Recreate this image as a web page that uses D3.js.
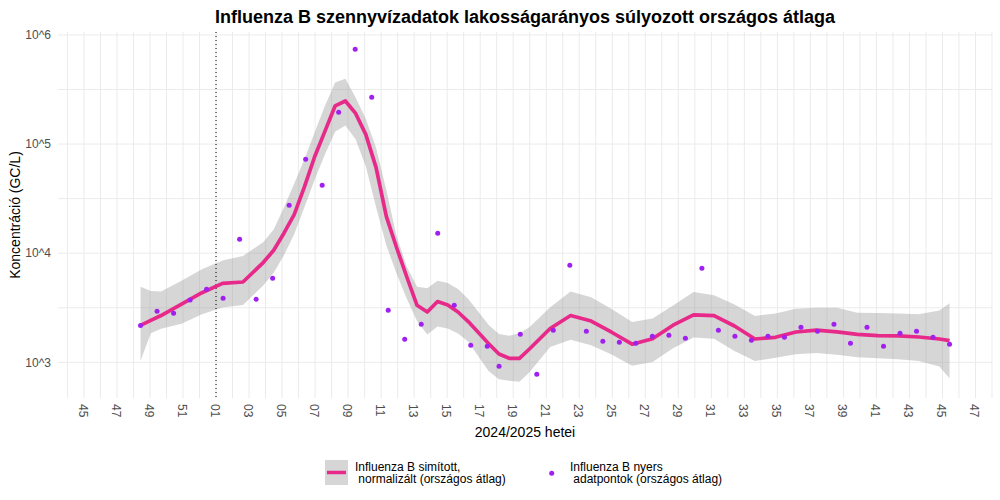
<!DOCTYPE html>
<html><head><meta charset="utf-8">
<script src="https://cdn.jsdelivr.net/npm/d3@7"></script>
<style>body{margin:0;background:#fff} text{font-family:"Liberation Sans",Arial,sans-serif}</style>
</head><body><svg id="c" width="1000" height="500"></svg>
<script>
const chartTitle = "Influenza B szennyvízadatok lakosságarányos súlyozott országos átlaga";
const xTitle = "2024/2025 hetei";
const yTitle = "Koncentráció (GC/L)";

// raw weekly data points (date of sample, GC/L)
const pointDates = ["2024-11-28","2024-12-05","2024-12-12","2024-12-19","2024-12-26","2025-01-02","2025-01-09","2025-01-16","2025-01-23","2025-01-30","2025-02-06","2025-02-13","2025-02-20","2025-02-27","2025-03-06","2025-03-13","2025-03-20","2025-03-27","2025-04-03","2025-04-10","2025-04-17","2025-04-24","2025-04-29","2025-05-08","2025-05-15","2025-05-22","2025-05-29","2025-06-05","2025-06-12","2025-06-19","2025-06-26","2025-07-03","2025-07-10","2025-07-17","2025-07-24","2025-07-31","2025-08-07","2025-08-14","2025-08-21","2025-08-28","2025-09-04","2025-09-11","2025-09-18","2025-09-25","2025-10-02","2025-10-09","2025-10-16","2025-10-23","2025-10-30","2025-11-06"];
const pointValues = [2180,2930,2810,3720,4670,3860,13410,3780,5890,27480,72550,41920,195600,739600,268500,3000,1625,2230,15220,3331,1432,1402,919,1806,776,1965,7745,1924,1558,1525,1494,1731,1768,1660,7270,1965,1731,1591,1731,1695,2094,1924,2230,1494,2094,1402,1844,1924,1695,1462];

// smoothed curve (days after first sample) with confidence band
const smoothStart = "2024-11-28";
const smoothDays = [0,4.34,8.68,17.37,26.05,34.74,43.42,52.1,56.45,60.79,65.13,69.47,73.81,78.15,82.49,86.84,91.18,95.52,99.86,104.2,108.54,112.89,117.23,121.57,125.91,130.25,134.59,138.94,147.62,151.96,156.3,160.65,164.99,173.67,182.35,191.04,199.72,208.41,217.09,225.77,234.46,243.14,251.82,260.51,269.19,277.87,286.56,295.24,303.92,312.61,321.29,329.97,338.66,343];
const smoothFit = [2183,2421,2685,3407,4345,5297,5445,8252,10630,15250,22590,40450,76480,130700,223500,248300,190800,122000,60770,21740,11280,6051,3331,2891,3608,3351,2891,2361,1481,1191,1088,1088,1332,2040,2685,2391,1887,1465,1646,2188,2720,2674,2151,1635,1695,1895,1973,1904,1802,1757,1750,1706,1635,1581];
const smoothUpper = [4932,4503,4466,5585,7135,8590,9425,12670,16490,26180,43360,72550,127700,223500,367000,396800,266800,169900,92680,37960,14380,7521,4932,4778,5596,5319,4698,3812,2197,1817,1753,1844,2102,3199,4466,3943,3073,2336,2520,3324,4400,4113,3380,2657,2807,3093,3166,3166,2843,2831,2807,2760,2990,3474];
const smoothLower = [1034,1848,2028,2259,2760,3173,3351,5079,6611,9565,14900,26340,47180,80130,129600,148100,110700,62190,26340,11820,6514,3819,2391,1795,2125,2036,1833,1545,829,699,677,664,815,1381,1608,1431,1179,931,1006,1344,1688,1646,1272,1026,1102,1184,1219,1174,1114,1090,1065,1026,917,713];

const yTickExponents = [3,4,5,6];
const yTickLabels = ["10^3","10^4","10^5","10^6"];
const yearStartMarker = "2024-12-30";
const xDomain = ["2024-10-24","2025-11-24"];
const yDomain = [471, 1064000];
const legendLabels = [["Influenza B simított,"," normalizált (országos átlag)"],["Influenza B nyers"," adatpontok (országos átlag)"]];

const colLine = "#E7298A", colPoint = "#A020F0", colGrid = "#EBEBEB", colTick = "#4D4D4D";
const P = {l:58, r:992, t:32, b:398};
const svg = d3.select("#c");
const parse = d3.utcParse("%Y-%m-%d");
const x = d3.scaleUtc().domain(xDomain.map(parse)).range([P.l, P.r]);
const y = d3.scaleLog().domain(yDomain).range([P.b, P.t]);

// grid
const g = svg.append("g");
const mondays = d3.utcMonday.range(x.domain()[0], d3.utcDay.offset(x.domain()[1], 1));
g.selectAll("line.v").data(mondays).join("line")
  .attr("x1", d => x(d)).attr("x2", d => x(d)).attr("y1", P.t).attr("y2", P.b)
  .attr("stroke", colGrid).attr("stroke-width", 1);
const hVals = [];
yTickExponents.forEach(e => { hVals.push(Math.pow(10, e)); hVals.push(Math.pow(10, e + 0.5)); });
g.selectAll("line.h").data(hVals.filter(v => v >= yDomain[0] && v <= yDomain[1])).join("line")
  .attr("x1", P.l).attr("x2", P.r).attr("y1", d => y(d)).attr("y2", d => y(d))
  .attr("stroke", colGrid).attr("stroke-width", 1);

// smooth data
const s0 = parse(smoothStart).getTime();
const smooth = smoothDays.map((d, i) => ({t: new Date(s0 + d * 864e5), fit: smoothFit[i], lo: smoothLower[i], hi: smoothUpper[i]}));

svg.append("path").datum(smooth)
  .attr("d", d3.area().x(d => x(d.t)).y0(d => y(d.lo)).y1(d => y(d.hi)))
  .attr("fill", "#999999").attr("fill-opacity", 0.4);

svg.append("line")
  .attr("x1", x(parse(yearStartMarker))).attr("x2", x(parse(yearStartMarker)))
  .attr("y1", P.t).attr("y2", P.b)
  .attr("stroke", "#000").attr("stroke-width", 1).attr("stroke-dasharray", "1,3");

svg.append("path").datum(smooth)
  .attr("d", d3.line().x(d => x(d.t)).y(d => y(d.fit)))
  .attr("fill", "none").attr("stroke", colLine).attr("stroke-width", 3.7).attr("stroke-linejoin", "round");

svg.selectAll("circle.pt").data(pointDates.map((d, i) => ({t: parse(d), v: pointValues[i]}))).join("circle")
  .attr("cx", d => x(d.t)).attr("cy", d => y(d.v)).attr("r", 2.5).attr("fill", colPoint);

// y tick labels
svg.selectAll("text.yt").data(yTickExponents).join("text")
  .attr("x", 51).attr("y", e => y(Math.pow(10, e))).attr("dy", "0.35em")
  .attr("text-anchor", "end").attr("font-size", 12).attr("fill", colTick)
  .text((e, i) => yTickLabels[i]);

// x tick labels (odd ISO weeks)
const wk = d3.utcFormat("%V");
svg.selectAll("text.xt").data(mondays.filter(d => +wk(d) % 2 === 1)).join("text")
  .attr("transform", d => `translate(${x(d) - 1},404) rotate(90)`)
  .attr("dy", "0.35em").attr("text-anchor", "start").attr("font-size", 12).attr("fill", colTick)
  .text(d => wk(d));

// titles
svg.append("text").attr("x", (P.l + P.r) / 2).attr("y", 23).attr("text-anchor", "middle")
  .attr("font-size", 18).attr("font-weight", "bold").attr("fill", "#000").text(chartTitle);
svg.append("text").attr("x", (P.l + P.r) / 2).attr("y", 436.5).attr("text-anchor", "middle")
  .attr("font-size", 14).attr("fill", "#000").text(xTitle);
svg.append("text").attr("transform", `translate(20,${(P.t + P.b) / 2}) rotate(-90)`)
  .attr("text-anchor", "middle").attr("font-size", 14).attr("fill", "#000").text(yTitle);

// legend
const lg = svg.append("g");
lg.append("rect").attr("x", 325).attr("y", 460).attr("width", 23).attr("height", 25)
  .attr("fill", "#999999").attr("fill-opacity", 0.4);
lg.append("line").attr("x1", 327).attr("x2", 346).attr("y1", 472.5).attr("y2", 472.5)
  .attr("stroke", colLine).attr("stroke-width", 3.5);
lg.append("circle").attr("cx", 551.7).attr("cy", 473.3).attr("r", 2.5).attr("fill", colPoint);
const lt = [[355, legendLabels[0]], [570, legendLabels[1]]];
lt.forEach(([lx, lines]) => {
  lines.forEach((s, j) => {
    lg.append("text").attr("x", lx).attr("y", 471 + j * 12).attr("font-size", 12)
      .attr("fill", "#000").style("white-space", "pre").text(s);
  });
});
</script></body></html>
